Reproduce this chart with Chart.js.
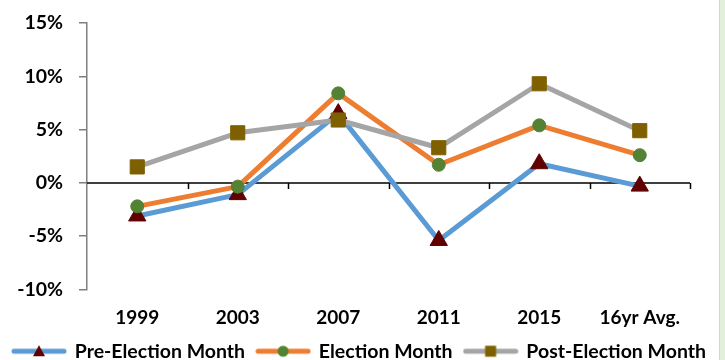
<!DOCTYPE html>
<html>
<head>
<meta charset="utf-8">
<script src="https://cdn.jsdelivr.net/npm/chart.js@4.4.0/dist/chart.umd.min.js"></script>
<style>
  html, body { margin: 0; padding: 0; }
  body { width: 725px; height: 360px; background: #e2efda; overflow: hidden; }
  #wrap { position: absolute; left: 0; top: 0; width: 719px; height: 360px; background: #fff; border-right: 1px solid #d4d4d4; }
</style>
</head>
<body>
<div id="wrap"><canvas id="electionChart"></canvas></div>
<script>
// values
const years = ['1999', '2003', '2007', '2011', '2015', '16yr Avg.'];
const preElection = [-3.1, -1.1, 6.5, -5.4, 1.8, -0.3];
const electionMonth = [-2.2, -0.35, 8.4, 1.7, 5.4, 2.6];
const postElection = [1.5, 4.7, 5.9, 3.3, 9.3, 4.9];
const yTicks = [-10, -5, 0, 5, 10, 15];

const FONT = 'Lato, "Liberation Sans", sans-serif';

// little line+marker pictures for the legend, like Excel draws them
function legendSwatch(lineColor, markColor, shape) {
    const c = document.createElement('canvas');
    c.width = 56;
    c.height = 14;
    const g = c.getContext('2d');
    g.strokeStyle = lineColor;
    g.lineWidth = 5;
    g.lineCap = 'round';
    g.beginPath();
    g.moveTo(3, 7);
    g.lineTo(53, 7);
    g.stroke();
    g.fillStyle = markColor;
    g.beginPath();
    if (shape === 'triangle') {
        g.moveTo(28, 1);
        g.lineTo(34, 12);
        g.lineTo(22, 12);
        g.closePath();
    } else if (shape === 'circle') {
        g.arc(28, 7, 5.5, 0, Math.PI * 2);
    } else {
        g.rect(22.5, 1.5, 11, 11);
    }
    g.fill();
    return c;
}

const swatches = [
    legendSwatch('#5B9BD5', '#600000', 'triangle'),
    legendSwatch('#ED7D31', '#548235', 'circle'),
    legendSwatch('#A5A5A5', '#7F6000', 'rect')
];

// zero line with category tick marks, Excel style
const zeroAxis = {
    id: 'zeroAxis',
    beforeDatasetsDraw(chart) {
        const {ctx, chartArea, scales} = chart;
        const y0 = scales.y.getPixelForValue(0);
        const step = (chartArea.right - chartArea.left) / years.length;
        ctx.save();
        ctx.strokeStyle = '#000';
        ctx.lineWidth = 1.5;
        ctx.beginPath();
        ctx.moveTo(chartArea.left, y0);
        ctx.lineTo(chartArea.right, y0);
        for (let i = 1; i <= years.length; i++) {
            const x = Math.round(chartArea.left + i * step) + 0.5;
            ctx.moveTo(x, y0);
            ctx.lineTo(x, y0 + 6);
        }
        ctx.stroke();
        ctx.restore();
    }
};

new Chart('electionChart', {
    type: 'line',
    data: {
        labels: years,
        datasets: [{
            label: 'Pre-Election Month',
            data: preElection,
            borderColor: '#5B9BD5',
            backgroundColor: '#600000',
            pointBackgroundColor: '#600000',
            pointBorderColor: '#600000',
            pointStyle: 'triangle',
            pointRadius: 10,
            order: 3
        }, {
            label: 'Election Month',
            data: electionMonth,
            borderColor: '#ED7D31',
            backgroundColor: '#548235',
            pointBackgroundColor: '#548235',
            pointBorderColor: '#548235',
            pointStyle: 'circle',
            pointRadius: 6.5,
            order: 2
        }, {
            label: 'Post-Election Month',
            data: postElection,
            borderColor: '#A5A5A5',
            backgroundColor: '#7F6000',
            pointBackgroundColor: '#7F6000',
            pointBorderColor: '#7F6000',
            pointStyle: 'rect',
            pointRadius: 10,
            order: 1
        }]
    },
    options: {
        responsive: true,
        maintainAspectRatio: false,
        animation: false,
        events: [],
        datasets: {
            line: {
                borderWidth: 5,
                borderJoinStyle: 'round',
                borderCapStyle: 'round',
                pointBorderWidth: 1,
                tension: 0
            }
        },
        layout: {
            padding: {left: 0, right: 0, top: 23, bottom: -11}
        },
        scales: {
            x: {
                offset: true,
                afterFit(scale) { scale.height = 40; },
                grid: {display: false, drawTicks: false},
                border: {display: false},
                ticks: {
                    padding: 17,
                    color: '#000',
                    font: {family: FONT, size: 19, weight: 'bold'}
                }
            },
            y: {
                min: -10,
                max: 15,
                afterFit(scale) {
                    scale.width = 87;
                    // tick padding would otherwise push the plot down
                    scale.paddingTop = 0;
                    scale.paddingBottom = 0;
                },
                afterBuildTicks(scale) { scale.ticks = yTicks.map(v => ({value: v})); },
                grid: {
                    drawOnChartArea: false,
                    drawTicks: true,
                    tickLength: 8,
                    color: '#7f7f7f',
                    lineWidth: 1.5
                },
                border: {color: '#7f7f7f', width: 1.5},
                ticks: {
                    padding: 16,
                    color: '#000',
                    font: {family: FONT, size: 19.5, weight: 'bold'},
                    callback: v => v + '%'
                }
            },
            // empty right-hand axis only to keep the plot off the right edge
            spacer: {
                type: 'linear',
                position: 'right',
                display: true,
                afterFit(scale) { scale.width = 29; },
                grid: {display: false},
                border: {display: false},
                ticks: {display: false}
            }
        },
        plugins: {
            tooltip: {enabled: false},
            legend: {
                position: 'bottom',
                labels: {
                    usePointStyle: true,
                    pointStyleWidth: 52,
                    padding: 12,
                    color: '#000',
                    font: {family: FONT, size: 19.5, weight: 'bold'},
                    sort: (a, b) => a.datasetIndex - b.datasetIndex,
                    generateLabels(chart) {
                        const items = Chart.defaults.plugins.legend.labels.generateLabels(chart);
                        items.forEach(it => { it.pointStyle = swatches[it.datasetIndex]; });
                        return items;
                    }
                }
            }
        }
    },
    plugins: [zeroAxis]
});
</script>
</body>
</html>
